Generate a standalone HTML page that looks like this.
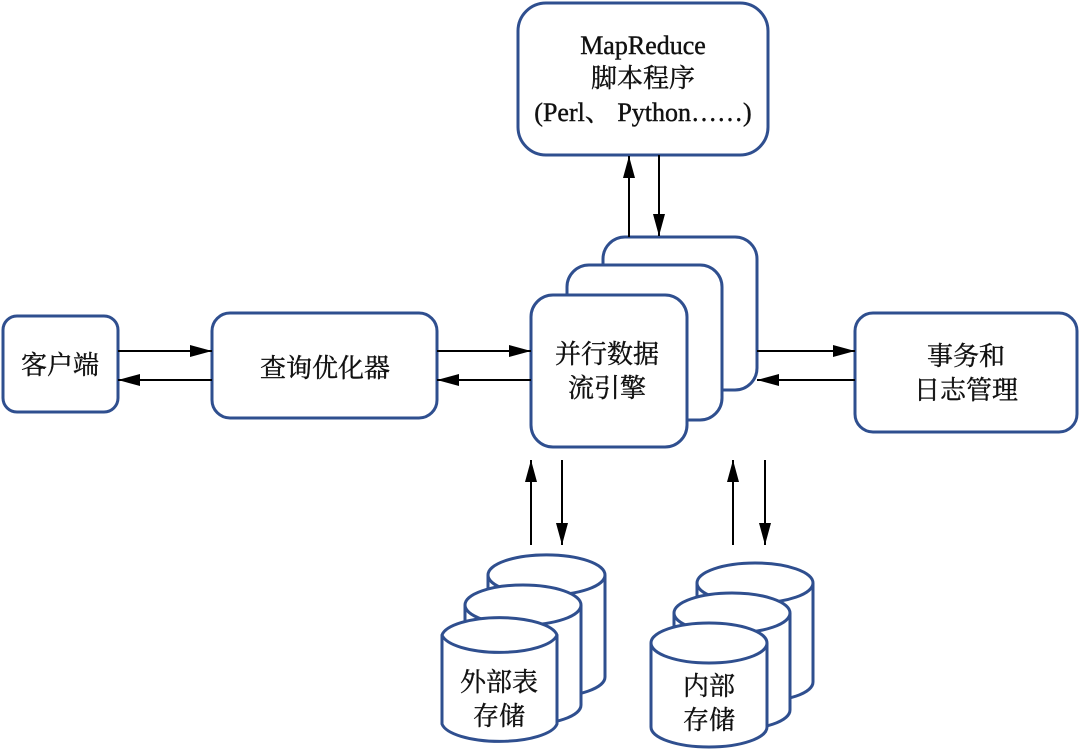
<!DOCTYPE html>
<html><head><meta charset="utf-8"><style>body{margin:0;background:#fff}svg{display:block}text{font-family:"Liberation Serif","Noto Serif CJK SC",serif;fill:#111}</style></head><body>
<svg width="1080" height="749" viewBox="0 0 1080 749" xmlns="http://www.w3.org/2000/svg">
<defs>
<marker id="b" markerWidth="22" markerHeight="12" refX="22" refY="6" orient="auto" markerUnits="userSpaceOnUse"><path d="M0,0 L22,6 L0,12 z" fill="#000"/></marker></defs>
<g fill="#fff" stroke="#2f4f8f" stroke-width="3">
<rect x="518" y="3" width="250" height="152" rx="28"/>
<rect x="603" y="237" width="154" height="153" rx="22"/>
<rect x="567" y="265" width="155" height="155" rx="22"/>
<rect x="531" y="295" width="156" height="152" rx="22"/>
<rect x="3" y="316" width="115" height="96" rx="14"/>
<rect x="212" y="313" width="225" height="105" rx="18"/>
<rect x="855" y="313" width="222" height="119" rx="18"/>
</g>
<g stroke="#000" stroke-width="2">
<line x1="118" y1="351" x2="212" y2="351" marker-end="url(#b)"/>
<line x1="212" y1="380" x2="118" y2="380" marker-end="url(#b)"/>
<line x1="437" y1="351" x2="531" y2="351" marker-end="url(#b)"/>
<line x1="531" y1="380" x2="437" y2="380" marker-end="url(#b)"/>
<line x1="757" y1="351" x2="855" y2="351" marker-end="url(#b)"/>
<line x1="855" y1="380" x2="757" y2="380" marker-end="url(#b)"/>
<line x1="629" y1="237" x2="629" y2="156" marker-end="url(#b)"/>
<line x1="659" y1="155" x2="659" y2="236" marker-end="url(#b)"/>
<line x1="531" y1="545" x2="531" y2="460" marker-end="url(#b)"/>
<line x1="562" y1="460" x2="562" y2="545" marker-end="url(#b)"/>
<line x1="733" y1="545" x2="733" y2="460" marker-end="url(#b)"/>
<line x1="765" y1="460" x2="765" y2="545" marker-end="url(#b)"/>
</g>
<g fill="#fff" stroke="#2f4f8f" stroke-width="3">
<path d="M488,575 A58,20 0 0 1 605,575 V677 A58,20 0 0 1 488,677 Z"/><path d="M488,575 A58,20 0 0 0 605,575"/>
<path d="M465,605 A58,20 0 0 1 581,605 V705 A58,20 0 0 1 465,705 Z"/><path d="M465,605 A58,20 0 0 0 581,605"/>
<path d="M442,635 A58,20 0 0 1 557,635 V724 A58,20 0 0 1 442,724 Z"/><path d="M442,635 A58,20 0 0 0 557,635"/>
<path d="M697,583 A58,20 0 0 1 813,583 V682 A58,20 0 0 1 697,682 Z"/><path d="M697,583 A58,20 0 0 0 813,583"/>
<path d="M674,613 A58,20 0 0 1 790,613 V710 A58,20 0 0 1 674,710 Z"/><path d="M674,613 A58,20 0 0 0 790,613"/>
<path d="M651,643 A58,20 0 0 1 767,643 V727 A58,20 0 0 1 651,727 Z"/><path d="M651,643 A58,20 0 0 0 767,643"/>
</g>
<g font-size="26" text-anchor="middle" stroke="#111" stroke-width="0.4">
<text x="643" y="54">MapReduce</text>
<text x="643" y="87">脚本程序</text>
<text x="643" y="121">(Perl、 Python……)</text>
<text x="60" y="374">客户端</text>
<text x="325" y="377">查询优化器</text>
<text x="607" y="363">并行数据</text>
<text x="607" y="397">流引擎</text>
<text x="966" y="365">事务和</text>
<text x="966" y="399">日志管理</text>
<text x="499" y="691">外部表</text>
<text x="499" y="725">存储</text>
<text x="709" y="695">内部</text>
<text x="709" y="729">存储</text>
</g>
</svg>
</body></html>
